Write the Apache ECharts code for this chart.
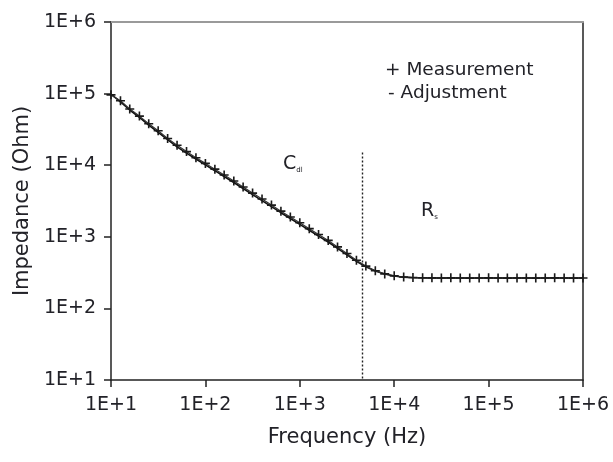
<!DOCTYPE html>
<html>
<head>
<meta charset="utf-8">
<script src="https://cdn.jsdelivr.net/npm/echarts@6/dist/echarts.min.js"></script>
<style>
  html, body { margin: 0; padding: 0; background: #fff; }
  #chart { width: 613px; height: 462px; }
</style>
</head>
<body>
<div id="chart"></div>
<script>
var freq = [10, 12.6, 15.8, 20, 25.1, 31.6, 39.8, 50.1, 63.1, 79.4,
            100, 126, 158, 200, 251, 316, 398, 501, 631, 794,
            1000, 1260, 1580, 2000, 2510, 3160, 3980, 5010, 6310, 7940,
            10000, 12600, 15800, 20000, 25100, 31600, 39800, 50100, 63100, 79400,
            100000, 126000, 158000, 200000, 251000, 316000, 398000, 501000, 631000, 794000,
            1000000];

var measurement = [96000, 79500, 61000, 48500, 38000, 30300, 23600, 19000, 15500, 12700,
                   10600, 8800, 7300, 6020, 4960, 4080, 3370, 2770, 2280, 1890,
                   1570, 1300, 1075, 890, 722, 585, 470, 390, 336, 303,
                   285, 274, 270, 268, 267, 266, 267, 266, 265, 266,
                   267, 266, 265, 266, 266, 265, 266, 267, 266, 265,
                   266];

var adjustment = [98600, 76300, 59000, 46400, 36400, 28800, 22780, 18070, 14760, 12210,
                  10100, 8380, 6955, 5733, 4727, 3886, 3203, 2633, 2171, 1801,
                  1490, 1233, 1023, 846, 689, 559, 453, 381, 333, 302,
                  284, 273, 268, 266, 266, 266, 266, 266, 266, 266,
                  266, 266, 266, 266, 266, 266, 266, 266, 266, 266,
                  266];

var boundaryFreq = 4640;
var tickLabels = { 10: '1E+1', 100: '1E+2', 1000: '1E+3', 10000: '1E+4', 100000: '1E+5', 1000000: '1E+6' };

var font = 'DejaVu Sans';
var textColor = '#222228';

function pairs(ys) {
    return freq.map(function (f, i) { return [f, ys[i]]; });
}

function fmt(v) {
    return tickLabels[Math.round(v)] || '';
}

var plus = 'path://M4.1,0H5.9V4.1H10V5.9H5.9V10H4.1V5.9H0V4.1H4.1Z';

var option = {
    animation: false,
    backgroundColor: '#fff',
    grid: { left: 111, right: 30, top: 22, bottom: 82 },
    xAxis: [{
        type: 'log',
        logBase: 10,
        min: 10,
        max: 1000000,
        name: 'Frequency (Hz)',
        nameLocation: 'middle',
        nameGap: 47,
        nameTextStyle: { fontFamily: font, fontSize: 21, color: textColor },
        axisLine: { lineStyle: { color: '#222', width: 1.5 } },
        axisTick: { show: true, inside: false, length: 7, lineStyle: { color: '#222', width: 1.5 } },
        minorTick: { show: false },
        splitLine: { show: false },
        axisLabel: { margin: 16, fontFamily: font, fontSize: 19, color: textColor, formatter: fmt }
    }, {
        type: 'log',
        logBase: 10,
        min: 10,
        max: 1000000,
        position: 'top',
        axisLine: { show: true, lineStyle: { color: '#9a9a9a', width: 2 } },
        axisTick: { show: false },
        axisLabel: { show: false },
        splitLine: { show: false }
    }],
    yAxis: [{
        type: 'log',
        logBase: 10,
        min: 10,
        max: 1000000,
        name: 'Impedance (Ohm)',
        nameLocation: 'middle',
        nameRotate: 90,
        nameGap: 76,
        nameTextStyle: { fontFamily: font, fontSize: 21, color: textColor },
        axisLine: { show: true, lineStyle: { color: '#222', width: 1.5 } },
        axisTick: { show: true, inside: false, length: 7, lineStyle: { color: '#222', width: 1.5 } },
        splitLine: { show: false },
        axisLabel: { margin: 15, fontFamily: font, fontSize: 19, color: textColor, formatter: fmt }
    }, {
        type: 'log',
        logBase: 10,
        min: 10,
        max: 1000000,
        position: 'right',
        axisLine: { show: true, lineStyle: { color: '#222', width: 1.5 } },
        axisTick: { show: false },
        axisLabel: { show: false },
        splitLine: { show: false }
    }],
    series: [{
        name: 'Adjustment',
        type: 'line',
        data: pairs(adjustment),
        showSymbol: false,
        lineStyle: { color: '#111', width: 1.6 },
        markLine: {
            silent: true,
            symbol: 'none',
            label: { show: false },
            lineStyle: { color: '#222', type: [2, 2], width: 1.4 },
            data: [[{ coord: [boundaryFreq, 15000] }, { coord: [boundaryFreq, 10] }]]
        }
    }, {
        name: 'Measurement',
        type: 'line',
        data: pairs(measurement),
        symbol: plus,
        symbolSize: 9,
        showAllSymbol: true,
        itemStyle: { color: '#1a1a1a' },
        lineStyle: { color: '#333', width: 1.2 }
    }],
    graphic: [
        { type: 'text', left: 385, top: 61, style: { text: '+ Measurement', font: '18.5px "' + font + '"', fill: textColor } },
        { type: 'text', left: 388, top: 84, style: { text: '- Adjustment', font: '18.5px "' + font + '"', fill: textColor } },
        { type: 'text', left: 283, top: 155, style: {
            text: '{a|C}{b|dl}',
            rich: {
                a: { fontFamily: font, fontSize: 19, fill: textColor, verticalAlign: 'bottom' },
                b: { fontFamily: font, fontSize: 7, fill: textColor, verticalAlign: 'bottom' }
            }
        } },
        { type: 'text', left: 421, top: 202, style: {
            text: '{a|R}{b|s}',
            rich: {
                a: { fontFamily: font, fontSize: 19, fill: textColor, verticalAlign: 'bottom' },
                b: { fontFamily: font, fontSize: 7, fill: textColor, verticalAlign: 'bottom' }
            }
        } }
    ]
};

var myChart = echarts.init(document.getElementById('chart'));
myChart.setOption(option);
</script>
</body>
</html>
